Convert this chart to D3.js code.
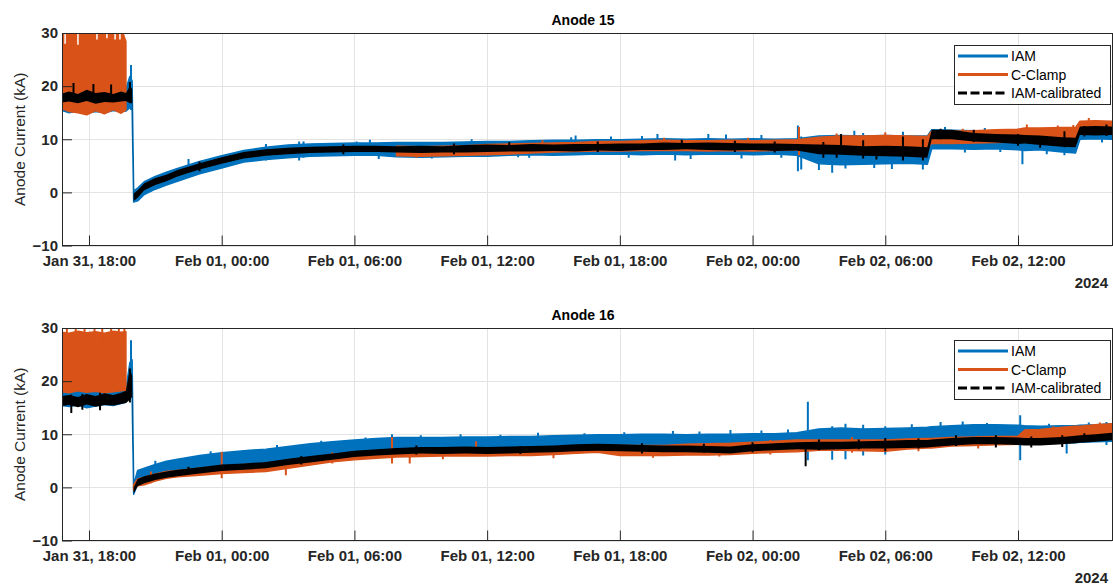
<!DOCTYPE html>
<html>
<head>
<meta charset="utf-8">
<script src="https://cdn.jsdelivr.net/npm/d3@7"></script>
<style>
  body { margin: 0; background: #fff; }
  svg { display: block; font-family: "Liberation Sans", Arial, Helvetica, sans-serif; }
</style>
</head>
<body>
<svg id="chart" width="1113" height="586"></svg>
<script>
// sample times, hours after Jan 31 2024 18:00
const hours = [-1.22, -0.9, -0.5, -0.1, 0.3, 0.7, 1.1, 1.45, 1.67, 1.85, 1.95,
  2.02, 2.2, 2.5, 3, 3.5, 4,
  5, 6, 7, 8, 9, 10, 11, 12, 13,
  13.9,
  15, 16, 17, 18, 19, 20, 21, 22, 23, 24, 25, 26, 27, 28, 29, 30, 31, 32, 33, 34, 35, 36, 37,
  37.9, 38.1,
  39, 40, 41, 42,
  42.3,
  43, 44,
  44.6, 44.8, 45.5, 46.3]

// ---- Anode 15 (kA), lower / upper edge of each noisy trace
const a15IamLo = [15.4, 15.0, 15.3, 14.9, 15.2, 15.0, 15.4, 15.2, 15.3, 16.0, 15.5,
  -1.8, -1.6, -0.4, 0.6, 1.4, 2.1,
  3.5, 4.6, 5.7, 6.2, 6.5, 6.8, 6.9, 7.0, 7.0,
  6.7,
  6.6, 6.7, 6.8, 6.8, 7.0, 7.1, 7.0, 7.1, 7.2, 7.2, 7.1, 7.2, 7.1, 7.2, 7.2, 7.1, 7.2, 7.0, 5.4, 5.2, 5.3, 5.4, 5.5,
  5.3, 8.2,
  8.2, 8.1, 8.2, 8.0,
  7.9,
  8.0, 7.6,
  7.4, 10.0, 10.1, 10.0]
const a15IamHi = [19.0, 19.2, 19.0, 19.3, 19.0, 19.2, 19.0, 19.5, 19.5, 21.8, 21.0,
  0.3, 0.8, 2.0, 3.0, 3.8, 4.5,
  5.8, 6.9, 7.9, 8.5, 8.9, 9.1, 9.2, 9.3, 9.3,
  9.4,
  9.4, 9.4, 9.5, 9.6, 9.6, 9.7, 9.8, 9.8, 9.9, 9.9, 10.0, 10.1, 10.0, 10.1, 10.0, 10.1, 10.0, 10.1, 10.6, 10.7, 10.6, 10.7, 10.6,
  10.6, 11.8,
  11.7, 11.6, 11.5, 11.5,
  11.4,
  11.3, 11.4,
  11.4, 13.0, 13.0, 12.9]
const a15ClampLo = [15.8, 15.2, 15.0, 14.6, 15.4, 14.8, 15.6, 14.9, 15.5, null, null,
  null, null, null, null, null, null,
  null, null, null, null, null, null, null, null, null,
  6.9,
  6.8, 6.9, 7.0, 7.1, 7.2, 7.4, 7.6, 7.7, 7.8, 7.8, 7.9, 7.9, 7.9, 7.8, 7.9, 7.8, 7.9, 8.0, 8.3, 8.4, 8.5, 8.6, 8.6,
  8.5, 9.2,
  9.2, 9.3, 9.4, 9.5,
  9.7,
  9.8, 9.9,
  10.0, 11.3, 11.3, 11.2]
const a15ClampHi = [31, 31, 31, 31, 31, 31, 31, 31, 28.4, null, null,
  null, null, null, null, null, null,
  null, null, null, null, null, null, null, null, null,
  8.7,
  8.6, 8.7, 8.8, 9.0, 9.1, 9.2, 9.3, 9.4, 9.6, 9.6, 9.7, 9.8, 9.7, 9.7, 9.8, 9.7, 9.8, 9.9, 10.4, 10.6, 10.6, 10.7, 10.6,
  10.5, 11.5,
  11.5, 11.6, 11.8, 11.9,
  12.1,
  12.1, 12.2,
  12.2, 13.4, 13.5, 13.4]
const a15CalLo = [16.9, 17.1, 16.8, 17.2, 16.7, 17.0, 16.9, 17.1, 17.2, 16.8, 16.8,
  -1.6, -1.0, 0.4, 1.4, 2.1, 3.0,
  4.3, 5.4, 6.4, 6.9, 7.2, 7.4, 7.5, 7.6, 7.6,
  7.5,
  7.4, 7.5, 7.5, 7.6, 7.7, 7.7, 7.8, 7.7, 7.9, 7.8, 8.0, 8.0, 8.1, 8.0, 7.9, 8.0, 7.8, 7.9, 7.2, 7.1, 6.9, 6.8, 6.7,
  6.5, 10.0,
  10.0, 9.6, 9.4, 9.1,
  9.2,
  8.9, 8.6,
  8.5, 10.8, 10.7, 10.8]
const a15CalHi = [18.6, 19.0, 18.5, 19.3, 18.7, 18.9, 18.5, 19.0, 18.7, 20.0, 19.5,
  -0.2, 0.4, 1.7, 2.7, 3.3, 4.2,
  5.5, 6.6, 7.6, 8.1, 8.4, 8.6, 8.7, 8.8, 8.8,
  8.7,
  8.8, 8.7, 8.9, 9.0, 8.9, 9.1, 9.0, 9.1, 9.1, 9.2, 9.2, 9.4, 9.3, 9.4, 9.3, 9.2, 9.2, 9.1, 9.0, 8.9, 8.7, 8.8, 8.7,
  8.5, 11.8,
  11.8, 11.2, 11.0, 10.9,
  10.8,
  10.7, 10.4,
  10.3, 12.4, 12.5, 12.4]
// short excursions [hour, low, high]
const a15IamSpikes = [[1.9, 15.5, 24.0], [4.5, 3.0, 6.3], [8.0, 6.0, 9.1], [9.5, 6.0, 9.6], [9.7, 6.5, 9.6],
  [12.1, 7.2, 9.6], [12.7, 7.0, 9.9], [13.1, 6.3, 8.5], [15.5, 6.4, 9.0], [17.3, 7.5, 10.0], [19.4, 6.6, 9.0],
  [19.9, 6.5, 8.5], [21.8, 8.0, 10.4], [22.0, 8.0, 10.7], [23.6, 8.0, 10.5], [24.4, 6.5, 8.5], [25.0, 8.0, 10.6],
  [25.7, 8.0, 11.0], [26.5, 6.0, 8.5], [27.2, 6.3, 8.5], [28.0, 8.0, 11.0], [28.8, 8.0, 10.9], [29.5, 6.4, 8.5],
  [30.4, 8.0, 10.8], [31.3, 6.5, 8.5], [32.05, 4.0, 12.6], [32.2, 4.3, 10.5], [33.0, 4.2, 7.0], [33.6, 3.7, 9.0],
  [34.2, 4.5, 7.0], [34.6, 8.0, 11.6], [35.0, 8.5, 11.2], [35.5, 4.6, 8.0], [36.3, 4.4, 7.0], [36.8, 8.0, 11.4],
  [37.7, 4.3, 8.0], [38.7, 8.5, 12.3], [39.6, 7.5, 10.0], [40.5, 9.0, 12.1], [41.2, 7.6, 10.0], [42.2, 5.3, 10.0],
  [43.3, 7.2, 10.0], [44.1, 7.0, 10.0], [45.8, 9.4, 12.0]]
const a15ClampSpikes = [[14.8, 6.5, 8.0], [20.5, 9.0, 9.8], [26.0, 9.0, 10.3], [29.8, 9.0, 10.3], [32.1, 7.0, 12.3],
  [33.8, 9.5, 11.1], [36.0, 9.5, 11.3], [39.5, 10.5, 12.0], [42.4, 10.0, 12.8], [43.8, 10.5, 12.6],
  [44.5, 11.0, 12.7], [45.2, 11.0, 14.0]]
const a15CalSpikes = [[-0.7, 17.0, 20.6], [0.2, 17.0, 20.4], [1.0, 17.0, 20.3], [1.85, 17.0, 20.8],
  [5.0, 4.0, 5.8], [11.5, 7.2, 9.0], [16.5, 7.2, 9.2], [19.0, 8.0, 9.5], [23.0, 7.6, 9.6], [26.8, 8.2, 9.9],
  [29.2, 7.6, 9.7], [31.0, 7.5, 9.6], [33.2, 6.5, 9.5], [33.8, 6.5, 8.5], [34.0, 7.5, 11.0], [35.0, 6.4, 9.8],
  [35.6, 6.2, 8.6], [36.8, 6.0, 10.5], [37.7, 6.0, 10.0], [38.5, 10.0, 12.0], [40.0, 9.5, 11.8], [42.0, 8.8, 11.0],
  [43.0, 8.4, 10.6], [44.1, 8.5, 11.5], [45.0, 10.5, 12.5], [46.0, 10.6, 12.8]]
// narrow gaps at the top of the clipped C-Clamp trace [hour, value]
const a15ClampDips = [[-1.08, 28.0], [-0.5, 27.8], [0.36, 28.8], [0.81, 29.0], [1.18, 28.8], [1.4, 28.8]]

// ---- Anode 16 (kA)
const a16IamLo = [15.4, 15.2, 15.5, 15.0, 15.3, 15.6, 15.4, 15.8, 16.0, 17.5, 17.0,
  -1.3, 0.6, 1.7, 2.5, 3.0, 3.3,
  3.8, 4.2, 4.5, 4.8, 5.2, 5.7, 6.1, 6.5, 6.9,
  7.1,
  7.2, 7.3, 7.3, 7.3, 7.4, 7.4, 7.4, 7.5, 7.6, 7.6, 7.7, 7.7, 7.7, 7.7, 7.8, 7.8, 7.9, 7.9, 7.8, 7.9, 8.0, 8.0, 8.1,
  8.1, 8.2,
  8.3, 8.4, 8.5, 8.5,
  8.1,
  8.2, 8.3,
  8.4, 8.5, 8.6, 8.7]
const a16IamHi = [18.0, 18.0, 18.2, 18.0, 18.1, 18.0, 18.2, 18.3, 18.5, 23.5, 24.0,
  0.5, 3.2, 3.6, 4.3, 4.9, 5.3,
  6.0, 6.5, 6.9, 7.2, 7.7, 8.2, 8.6, 8.9, 9.2,
  9.4,
  9.4, 9.4, 9.5, 9.5, 9.6, 9.6, 9.7, 9.8, 9.9, 9.9, 10.0, 10.0, 9.9, 10.0, 10.0, 10.1, 10.1, 10.3, 11.0, 11.2, 11.0, 11.1, 11.2,
  11.3, 11.4,
  11.6, 11.8, 11.8, 11.7,
  11.6,
  11.5, 11.6,
  11.6, 11.7, 11.8, 12.0]
const a16ClampLo = [18.0, 17.8, 18.2, 17.9, 18.1, 17.8, 18.0, 18.2, 18.3, null, null,
  -0.5, 0.3, 0.5, 1.2, 1.7, 2.0,
  2.3, 2.6, 2.8, 3.0, 3.6, 4.2, 4.8, 5.2, 5.5,
  5.7,
  5.8, 5.9, 5.9, 5.9, 6.0, 6.0, 6.2, 6.4, 6.6, 6.0, 6.0, 6.0, 6.1, 6.1, 6.2, 6.4, 6.6, 6.7, 7.0, 7.0, 6.9, 6.8, 7.2,
  7.4, 7.4,
  7.8, 7.9, 8.0, 8.1,
  8.9,
  8.9, 9.2,
  9.3, 9.4, 9.6, 9.8]
const a16ClampHi = [29.2, 29.0, 29.4, 29.1, 29.3, 29.0, 29.4, 29.2, 29.3, null, null,
  0.5, 1.6, 1.9, 2.5, 3.0, 3.2,
  3.6, 4.0, 4.3, 4.5, 5.0, 5.6, 6.2, 6.6, 6.9,
  7.1,
  7.2, 7.2, 7.2, 7.2, 7.3, 7.4, 7.5, 7.7, 7.8, 7.9, 7.9, 7.9, 8.1, 8.2, 8.3, 8.5, 8.7, 8.9, 8.9, 8.9, 8.9, 8.9, 9.1,
  9.2, 9.2,
  9.4, 9.5, 9.6, 9.6,
  10.8,
  10.9, 11.3,
  11.5, 11.5, 11.8, 12.0]
const a16CalLo = [15.3, 15.5, 15.1, 15.6, 15.2, 15.5, 15.4, 15.7, 15.9, 16.5, 17.0,
  -1.2, 0.2, 0.8, 1.4, 1.8, 2.1,
  2.6, 3.1, 3.3, 3.6, 4.2, 4.7, 5.2, 5.7, 6.0,
  6.2,
  6.4, 6.3, 6.4, 6.3, 6.4, 6.5, 6.6, 6.8, 6.9, 6.8, 6.7, 6.6, 6.6, 6.5, 6.4, 6.8, 7.0, 7.2, 7.1, 7.2, 7.3, 7.3, 7.4,
  7.5, 7.6,
  7.9, 8.1, 8.1, 8.0,
  7.9,
  7.9, 8.1,
  8.3, 8.4, 8.6, 8.9]
const a16CalHi = [17.2, 17.4, 17.0, 17.6, 17.2, 17.7, 17.4, 17.8, 18.2, 22.4, 21.0,
  0.0, 1.6, 2.1, 2.6, 3.0, 3.3,
  3.8, 4.3, 4.5, 4.8, 5.4, 5.9, 6.4, 6.9, 7.2,
  7.4,
  7.6, 7.6, 7.7, 7.6, 7.7, 7.8, 7.9, 8.1, 8.2, 8.1, 8.0, 7.9, 7.9, 7.8, 7.7, 8.1, 8.3, 8.5, 8.6, 8.6, 8.7, 8.8, 8.9,
  8.9, 9.0,
  9.3, 9.5, 9.5, 9.4,
  9.3,
  9.3, 9.5,
  9.7, 9.8, 10.0, 10.3]
const a16IamSpikes = [[1.9, 18.0, 27.7], [3.0, 2.4, 5.0], [5.5, 4.0, 6.8], [8.5, 5.0, 8.0], [10.5, 6.0, 8.8],
  [12.5, 6.5, 9.4], [13.7, 7.0, 10.0], [15.0, 7.2, 9.8], [16.8, 7.3, 10.0], [18.6, 7.4, 9.9], [20.3, 7.2, 10.3],
  [22.4, 7.5, 10.2], [24.2, 7.6, 10.4], [26.4, 7.4, 10.6], [27.6, 7.7, 10.5], [29.0, 7.2, 10.8], [30.4, 7.8, 10.7],
  [31.6, 7.9, 10.9], [32.5, 5.1, 16.1], [33.6, 5.2, 11.5], [34.2, 5.3, 12.0], [35.0, 6.0, 11.8], [36.0, 6.2, 11.5],
  [37.2, 8.0, 11.9], [38.5, 8.0, 12.3], [39.5, 8.3, 12.4], [40.6, 8.0, 12.1], [42.1, 5.1, 13.6], [43.4, 8.2, 12.0],
  [44.2, 6.4, 11.5], [45.2, 8.5, 12.2], [46.0, 8.0, 12.3]]
const a16ClampSpikes = [[-1.0, 27.0, 30.3], [-0.6, 27.0, 30.3], [-0.2, 27.0, 30.3], [0.25, 27.0, 30.3],
  [0.6, 27.0, 30.3], [1.0, 27.0, 30.3], [1.35, 27.0, 30.3], [1.6, 27.0, 30.3],
  [2.8, 0.8, 3.0], [6.0, 1.7, 6.7], [8.9, 2.3, 4.5], [11.0, 4.5, 6.6], [13.7, 4.5, 9.5], [14.5, 4.5, 7.0],
  [16.0, 5.3, 7.3], [17.5, 6.0, 8.7], [21.0, 5.5, 7.5], [25.5, 5.6, 8.0], [28.5, 5.8, 8.3], [30.8, 6.2, 8.9],
  [34.5, 6.5, 9.5], [37.5, 6.8, 9.3], [40.2, 7.3, 9.7], [43.6, 8.6, 11.5], [45.7, 9.2, 12.2]]
const a16CalSpikes = [[-0.8, 14.0, 17.5], [-0.3, 14.6, 17.6], [0.5, 14.5, 17.8], [1.85, 16.0, 22.4],
  [4.5, 2.5, 3.9], [9.6, 4.3, 5.9], [14.8, 6.2, 7.9], [19.5, 6.3, 7.8], [25.0, 6.4, 8.3], [27.8, 6.5, 8.2],
  [30.0, 6.6, 8.5], [32.4, 4.0, 8.0], [33.0, 7.0, 9.0], [34.8, 7.2, 9.0], [36.0, 6.8, 9.3], [37.5, 7.3, 9.2],
  [39.2, 7.8, 9.8], [41.0, 7.5, 9.8], [42.6, 7.5, 9.6], [44.0, 7.6, 9.8], [45.0, 8.5, 10.2]]
const a16ClampDips = []

const yTicks = [-10, 0, 10, 20, 30]
const seriesNames = ["IAM", "C-Clamp", "IAM-calibrated"]
const colors = ["#0072BD", "#D95319", "#000000"]

const t0 = Date.UTC(2024, 0, 31, 18, 0)
const toDate = h => new Date(t0 + h * 3600e3)

const svg = d3.select("#chart")
const left = 62, right = 1112

const x = d3.scaleUtc()
  .domain([toDate(-1.22), toDate(46.25)])
  .range([left, right])
const xTicks = d3.utcHour.every(6).range(toDate(-1.22), toDate(46.25))
const fmt = d3.utcFormat("%b %d, %H:%M")

const panels = [
  { title: "Anode 15", top: 33, bottom: 245.5,
    lo: [a15IamLo, a15ClampLo, a15CalLo], hi: [a15IamHi, a15ClampHi, a15CalHi],
    spikes: [a15IamSpikes, a15ClampSpikes, a15CalSpikes], dips: a15ClampDips },
  { title: "Anode 16", top: 328, bottom: 540.5,
    lo: [a16IamLo, a16ClampLo, a16CalLo], hi: [a16IamHi, a16ClampHi, a16CalHi],
    spikes: [a16IamSpikes, a16ClampSpikes, a16CalSpikes], dips: a16ClampDips }
]

panels.forEach((p, pi) => {
  const y = d3.scaleLinear().domain([-10, 30]).range([p.bottom, p.top])
  const g = svg.append("g")

  // grid
  g.append("g").selectAll("line").data(xTicks).join("line")
    .attr("x1", d => Math.round(x(d)) + 0.5).attr("x2", d => Math.round(x(d)) + 0.5)
    .attr("y1", p.top).attr("y2", p.bottom)
    .attr("stroke", "#e3e3e3")
  g.append("g").selectAll("line").data(yTicks).join("line")
    .attr("x1", left).attr("x2", right)
    .attr("y1", d => Math.round(y(d)) + 0.5).attr("y2", d => Math.round(y(d)) + 0.5)
    .attr("stroke", "#e3e3e3")

  const clipId = "clip" + pi
  svg.append("clipPath").attr("id", clipId).append("rect")
    .attr("x", left).attr("y", p.top).attr("width", right - left).attr("height", p.bottom - p.top)

  const plot = g.append("g").attr("clip-path", `url(#${clipId})`)

  p.lo.forEach((lo, si) => {
    const hi = p.hi[si]
    const rows = hours.map((h, i) => ({ h, lo: lo[i], hi: hi[i] }))
    const area = d3.area()
      .defined(d => d.lo != null && d.hi != null)
      .x(d => x(toDate(d.h)))
      .y0(d => y(d.lo))
      .y1(d => y(d.hi))
    plot.append("path")
      .datum(rows)
      .attr("d", area)
      .attr("fill", colors[si])
      .attr("stroke", si === 2 ? "none" : colors[si])
      .attr("stroke-width", 1.5)
      .attr("stroke-linejoin", "round")

    plot.append("g").selectAll("line").data(p.spikes[si]).join("line")
      .attr("x1", d => x(toDate(d[0]))).attr("x2", d => x(toDate(d[0])))
      .attr("y1", d => y(d[1])).attr("y2", d => y(d[2]))
      .attr("stroke", colors[si])
      .attr("stroke-width", 2)

    if (si === 1) {
      plot.append("g").selectAll("line").data(p.dips).join("line")
        .attr("x1", d => x(toDate(d[0]))).attr("x2", d => x(toDate(d[0])))
        .attr("y1", p.top).attr("y2", d => y(d[1]))
        .attr("stroke", "#fff")
        .attr("stroke-width", 1.5)
    }
  })

  // box
  g.append("rect")
    .attr("x", left + 0.5).attr("y", p.top + 0.5)
    .attr("width", right - left).attr("height", p.bottom - p.top - 0.5)
    .attr("fill", "none").attr("stroke", "#262626").attr("stroke-width", 1)

  // axes
  const xAxis = g.append("g")
    .attr("transform", `translate(0,${p.bottom})`)
    .call(d3.axisBottom(x).tickValues(xTicks).tickFormat(fmt).tickSize(-10).tickPadding(10))
  xAxis.select(".domain").remove()
  xAxis.selectAll(".tick line").attr("stroke", "#262626")
  xAxis.selectAll("text")
    .attr("fill", "#262626")
    .style("font-size", "15px").style("font-weight", "bold")
    .style("font-family", '"Liberation Sans", Arial, sans-serif')

  const yAxis = g.append("g")
    .attr("transform", `translate(${left},0)`)
    .call(d3.axisLeft(y).tickValues(yTicks).tickSize(-10).tickPadding(4))
  yAxis.select(".domain").remove()
  yAxis.selectAll(".tick line").attr("stroke", "#262626")
  yAxis.selectAll("text")
    .attr("fill", "#262626")
    .style("font-size", "15px").style("font-weight", "bold")
    .style("font-family", '"Liberation Sans", Arial, sans-serif')

  // year label
  g.append("text")
    .attr("x", 1108).attr("y", p.bottom + 42)
    .attr("text-anchor", "end")
    .attr("fill", "#262626")
    .style("font-size", "15px").style("font-weight", "bold")
    .text("2024")

  // title
  g.append("text")
    .attr("x", 583).attr("y", p.top - 8)
    .attr("text-anchor", "middle")
    .attr("fill", "#000")
    .style("font-size", "14px").style("font-weight", "bold")
    .text(p.title)

  // y label
  g.append("text")
    .attr("transform", `translate(25,${(p.top + p.bottom) / 2}) rotate(-90)`)
    .attr("text-anchor", "middle")
    .attr("fill", "#262626")
    .style("font-size", "15.5px")
    .text("Anode Current (kA)")

  // legend
  const lg = g.append("g").attr("transform", `translate(954,${p.top + 12})`)
  lg.append("rect")
    .attr("x", 0.5).attr("y", 0.5).attr("width", 156).attr("height", 59)
    .attr("fill", "#fff").attr("stroke", "#262626")
  seriesNames.forEach((name, i) => {
    const ly = 11 + i * 18.5
    lg.append("line")
      .attr("x1", 4).attr("x2", 54).attr("y1", ly).attr("y2", ly)
      .attr("stroke", colors[i]).attr("stroke-width", 3)
      .attr("stroke-dasharray", i === 2 ? "9,3.5" : null)
    lg.append("text")
      .attr("x", 57).attr("y", ly + 5)
      .attr("fill", "#000")
      .style("font-size", "14px")
      .text(name)
  })
})
</script>
</body>
</html>
